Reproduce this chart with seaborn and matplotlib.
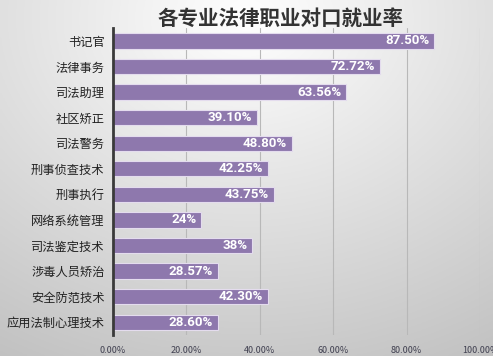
import numpy as np
import pandas as pd
import seaborn as sns
import matplotlib.pyplot as plt

majors = ["书记官", "法律事务", "司法助理", "社区矫正", "司法警务", "刑事侦查技术",
          "刑事执行", "网络系统管理", "司法鉴定技术", "涉毒人员矫治", "安全防范技术",
          "应用法制心理技术"]
rates = [87.50, 72.72, 63.56, 39.10, 48.80, 42.25, 43.75, 24, 38, 28.57, 42.30, 28.60]
rate_labels = ["87.50%", "72.72%", "63.56%", "39.10%", "48.80%", "42.25%",
               "43.75%", "24%", "38%", "28.57%", "42.30%", "28.60%"]
xticks = [0, 20, 40, 60, 80, 100]
xtick_labels = ["0.00%", "20.00%", "40.00%", "60.00%", "80.00%", "100.00%"]

df = pd.DataFrame({"major": majors, "rate": rates})

sns.set_style("white")
plt.rcParams["font.family"] = ["Noto Sans CJK SC", "DejaVu Sans"]

fig = plt.figure(figsize=(4.93, 3.56), dpi=100)

# gradient background (light top, grey towards bottom/corners)
bg = fig.add_axes([0, 0, 1, 1], zorder=-10)
yy, xx = np.mgrid[0:1:200j, 0:1:200j]
r = np.sqrt(((xx - 0.5) * 1.1) ** 2 + (yy - 0.05) ** 2)
shade = 1.0 - 0.22 * np.clip(r, 0, 1.1)
bg.imshow(np.dstack([shade, shade, shade]), aspect="auto", extent=[0, 1, 1, 0])
bg.axis("off")

ax = fig.add_axes([0.229, 0.059, 0.745, 0.862])
ax.patch.set_alpha(0)
sns.barplot(data=df, x="rate", y="major", color="#8e78ad", saturation=1,
            width=0.6, edgecolor="#e4dcee", linewidth=0.8, ax=ax)

for i, (v, lab) in enumerate(zip(rates, rate_labels)):
    ax.text(v - 1.3, i, lab, ha="right", va="center", color="white", zorder=10,
            fontsize=9.6, fontweight="bold", family=["Roboto", "DejaVu Sans"])

ax.set_xlim(0, 100)
ax.set_xticks(xticks)
ax.set_xticklabels(xtick_labels, fontsize=6.5, color="#404050")
ax.tick_params(axis="x", length=0, pad=8)
ax.tick_params(axis="y", length=0, labelsize=8.8, pad=6, labelcolor="#222222")
ax.set_xlabel("")
ax.set_ylabel("")
ax.xaxis.grid(True, color="#b8b8b8", linewidth=0.8)
ax.set_axisbelow(True)
for s in ["top", "right", "bottom"]:
    ax.spines[s].set_visible(False)
ax.spines["left"].set_color("#3a3a3a")
ax.spines["left"].set_linewidth(2)

fig.text(0.57, 0.948, "各专业法律职业对口就业率", ha="center", va="center",
         fontsize=14.8, fontweight="bold", color="#333333")

fig.savefig("out.png", dpi=100)
